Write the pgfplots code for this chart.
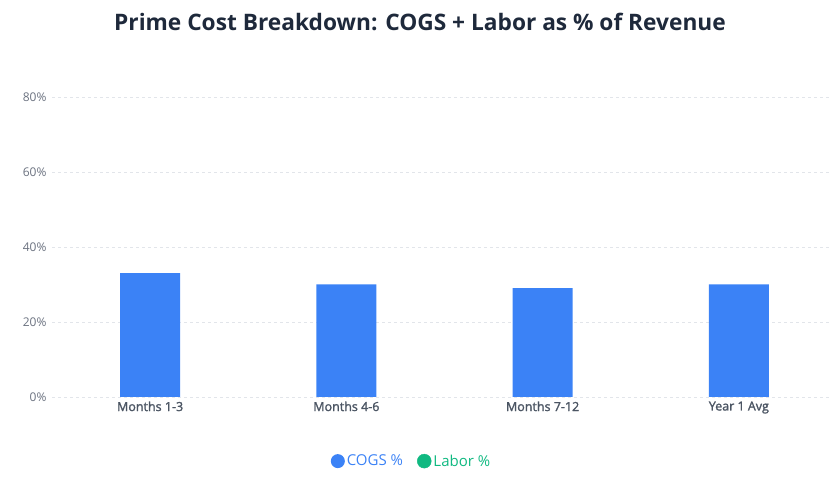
\documentclass[border=0pt]{standalone}
\usepackage{pgfplots}
\pgfplotsset{compat=1.18}
\usepackage{fontspec}
\setmainfont{Open Sans}
\newfontfamily\semi{Open Sans}[FakeBold=1.6]
\definecolor{cogs}{HTML}{3B82F6}
\definecolor{labor}{HTML}{10B981}
\definecolor{titlec}{HTML}{1E293B}
\definecolor{tickc}{HTML}{6B7280}
\definecolor{xlabc}{HTML}{4B5563}
\definecolor{gridc}{HTML}{E2E5EA}
\begin{document}
\begin{tikzpicture}[x=1pt,y=1pt]
\useasboundingbox (0,0) rectangle (831,482);
\node[font=\fontsize{22.7}{26}\selectfont\bfseries, text=titlec] at (420,460) {Prime Cost Breakdown: COGS + Labor as \% of Revenue};
\begin{axis}[
  at={(52pt,85pt)}, anchor=south west, scale only axis,
  width=785pt, height=337.5pt,
  xmin=-0.5, xmax=3.5, ymin=0, ymax=90,
  axis line style={draw=none},
  major tick length=0pt,
  ytick={0,20,40,60,80},
  yticklabel={\pgfmathprintnumber{\tick}\%},
  /pgf/number format/assume math mode=true,
  yticklabel style={font=\fontsize{12}{14}\selectfont, text=tickc, xshift=-2pt},
  xtick={0,1,2,3},
  xticklabels={Months 1-3, Months 4-6, Months 7-12, Year 1 Avg},
  xticklabel style={font=\semi\fontsize{12.5}{15}\selectfont, text=xlabc, yshift=-1pt},
  ymajorgrids,
  grid style={gridc, line width=0.8pt, dash pattern=on 3pt off 3pt},
  legend style={at={(0.458,-0.19)}, anchor=center, draw=none, fill=none,
    legend columns=2, font=\fontsize{15}{18}\selectfont,
    /tikz/every even column/.append style={column sep=12pt}},
  legend cell align=left,
]
\addplot[ybar, bar width=60pt, bar shift=0pt, fill=cogs, draw=none,
  legend image code/.code={\fill[cogs] (0.12cm,0) circle (7pt);}]
  coordinates {(0,33) (1,30) (2,29) (3,30)};
\addlegendentry{\textcolor{cogs}{COGS \%}}
\addlegendimage{legend image code/.code={\fill[labor] (0.12cm,0) circle (7pt);}}
\addlegendentry{\textcolor{labor}{Labor \%}}
\end{axis}
\end{tikzpicture}
\end{document}
